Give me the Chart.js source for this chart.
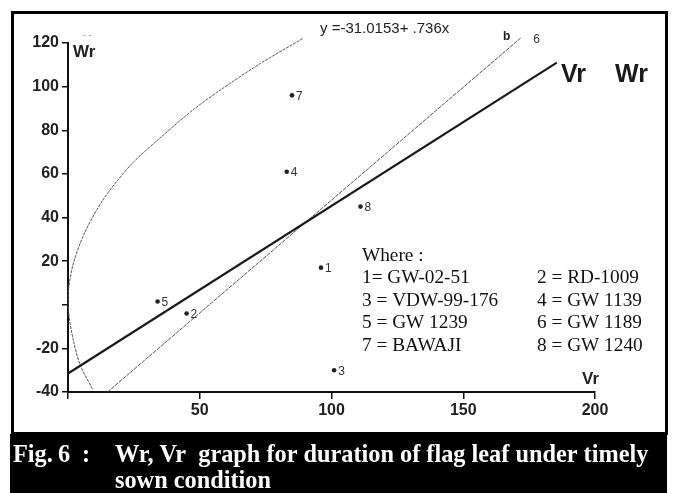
<!DOCTYPE html>
<html>
<head>
<meta charset="utf-8">
<script src="https://cdn.jsdelivr.net/npm/chart.js@4.4.0/dist/chart.umd.min.js"></script>
<style>
  html, body { margin: 0; padding: 0; background: #fff; }
  #wrap { position: relative; width: 674px; height: 493px; }
</style>
</head>
<body>
<div id="wrap"><canvas id="wrChart" width="674" height="493"></canvas></div>
<script>
// genotype points (Vr, Wr)
var genotypes = ['1', '2', '3', '4', '5', '6', '7', '8'];
var vrValues = [96, 45, 101, 83, 34, 175, 85, 111];
var wrValues = [17, -4, -30, 61, 1.5, 122, 96, 45];
var genotypeNames = ['GW-02-51', 'RD-1009', 'VDW-99-176', 'GW 1139', 'GW 1239', 'GW 1189', 'BAWAJI', 'GW 1240'];

// regression line ends
var regVr = [0, 185.5];
var regWr = [-31.5, 111];

// unit slope line "b"
var bVr = [15, 172];
var bWr = [-40, 122.5];

// limiting parabola
var parVr = [89, 73, 58.5, 47.5, 34.5, 25, 19, 12.8, 6.5, 2.2, 0.2, 0.2, 1.9, 4.6, 9.2];
var parWr = [122, 110.6, 99, 89.4, 76, 65.6, 57.3, 47.2, 33.5, 19.7, 7, -3, -15.6, -27.5, -38.5];

var xTickLabels = [50, 100, 150, 200];
var yTickLabels = [-40, -20, 20, 40, 60, 80, 100, 120];

function toPoints(xs, ys) {
    return xs.map(function(x, i) { return { x: x, y: ys[i] }; });
}

var framePlugin = {
    id: 'frame',
    beforeDraw: function(chart) {
        var c = chart.ctx;
        c.save();
        c.fillStyle = '#fff';
        c.fillRect(0, 0, 674, 493);
        c.restore();
    },
    afterDraw: function(chart) {
        var c = chart.ctx;
        var xs = chart.scales.x, ys = chart.scales.y;
        c.save();
        // frame
        c.strokeStyle = '#000';
        c.lineWidth = 3;
        c.strokeRect(12.5, 12.5, 654, 421);

        // point labels
        c.fillStyle = '#333';
        c.font = '12px "Liberation Sans", Arial, sans-serif';
        c.textBaseline = 'middle';
        c.textAlign = 'left';
        genotypes.forEach(function(g, i) {
            var px = xs.getPixelForValue(vrValues[i]);
            var py = ys.getPixelForValue(wrValues[i]);
            c.fillText(g, px + 4, py + 1);
        });

        // axis names
        c.fillStyle = '#222';
        c.textBaseline = 'alphabetic';
        c.font = 'bold 17px "Liberation Sans", Arial, sans-serif';
        c.fillText('Wr', 73, 57);
        c.fillText('Vr', 582, 384);
        c.font = '9px "Liberation Sans", Arial, sans-serif';
        c.fillStyle = '#888';
        c.fillText('- -', 83, 38);

        // equation and line names
        c.fillStyle = '#222';
        c.font = '15px "Liberation Sans", Arial, sans-serif';
        c.fillText('y =-31.0153+ .736x', 320, 33);
        c.font = 'bold 12px "Liberation Sans", Arial, sans-serif';
        c.fillText('b', 503, 40);
        c.font = 'bold 25px "Liberation Sans", Arial, sans-serif';
        c.fillStyle = '#1a1a1a';
        c.fillText('Vr', 561, 82);
        c.fillText('Wr', 615, 82);

        // key
        c.fillStyle = '#111';
        c.font = '19.3px "Liberation Serif", "Times New Roman", serif';
        c.fillText('Where :', 362, 261);
        genotypes.forEach(function(g, i) {
            var col = i % 2, row = Math.floor(i / 2);
            var sep = (i === 0) ? '= ' : ' = ';
            c.fillText(g + sep + genotypeNames[i], col ? 537 : 362, 283 + row * 22.7);
        });

        // caption band
        c.fillStyle = '#000';
        c.fillRect(10, 434, 657, 59);
        c.fillStyle = '#fff';
        c.font = 'bold 24.3px "Liberation Serif", "Times New Roman", serif';
        c.fillText('Fig.', 13, 462);
        c.fillText('6', 58, 462);
        c.fillText(':', 82, 462);
        c.fillText('Wr, Vr  graph for duration of flag leaf under timely', 115, 462);
        c.fillText('sown condition', 115, 488);
        c.restore();
    }
};

var ctx = document.getElementById('wrChart').getContext('2d');
new Chart(ctx, {
    type: 'scatter',
    data: {
        datasets: [{
            label: 'genotypes',
            data: toPoints(vrValues, wrValues),
            pointRadius: 2.3,
            pointBackgroundColor: '#222',
            pointBorderWidth: 0,
            clip: false
        }, {
            label: 'regression',
            data: toPoints(regVr, regWr),
            showLine: true,
            borderColor: '#1a1a1a',
            borderWidth: 2.2,
            pointRadius: 0,
            clip: false
        }, {
            label: 'b',
            data: toPoints(bVr, bWr),
            showLine: true,
            borderColor: '#555',
            borderWidth: 1,
            borderDash: [4, 1],
            pointRadius: 0,
            clip: false
        }, {
            label: 'parabola',
            data: toPoints(parVr, parWr),
            showLine: true,
            tension: 0.3,
            borderColor: '#555',
            borderWidth: 1,
            borderDash: [3, 1],
            pointRadius: 0,
            clip: false
        }]
    },
    options: {
        responsive: false,
        animation: false,
        layout: { padding: { left: 28, right: 79, top: 43, bottom: 71 } },
        plugins: {
            legend: { display: false },
            tooltip: { enabled: false }
        },
        scales: {
            x: {
                type: 'linear',
                min: 0,
                max: 200,
                afterFit: function(s) { s.height = 30; },
                border: { display: true, color: '#111', width: 2 },
                grid: { drawOnChartArea: false, drawTicks: true, tickLength: 7, color: '#111', lineWidth: 1.5 },
                ticks: {
                    stepSize: 50,
                    padding: 2,
                    color: '#222',
                    font: { family: '"Liberation Sans", Arial, sans-serif', size: 16, weight: 'bold' },
                    callback: function(v) { return xTickLabels.indexOf(v) >= 0 ? String(v) : ''; }
                }
            },
            y: {
                type: 'linear',
                min: -40,
                max: 120,
                afterFit: function(s) { s.width = 40; },
                border: { display: true, color: '#111', width: 2 },
                grid: { drawOnChartArea: false, drawTicks: true, tickLength: 6, color: '#111', lineWidth: 1.5 },
                ticks: {
                    stepSize: 20,
                    padding: 3,
                    color: '#222',
                    font: { family: '"Liberation Sans", Arial, sans-serif', size: 16, weight: 'bold' },
                    callback: function(v) { return yTickLabels.indexOf(v) >= 0 ? String(v) : ''; }
                }
            }
        }
    },
    plugins: [framePlugin]
});
</script>
</body>
</html>
